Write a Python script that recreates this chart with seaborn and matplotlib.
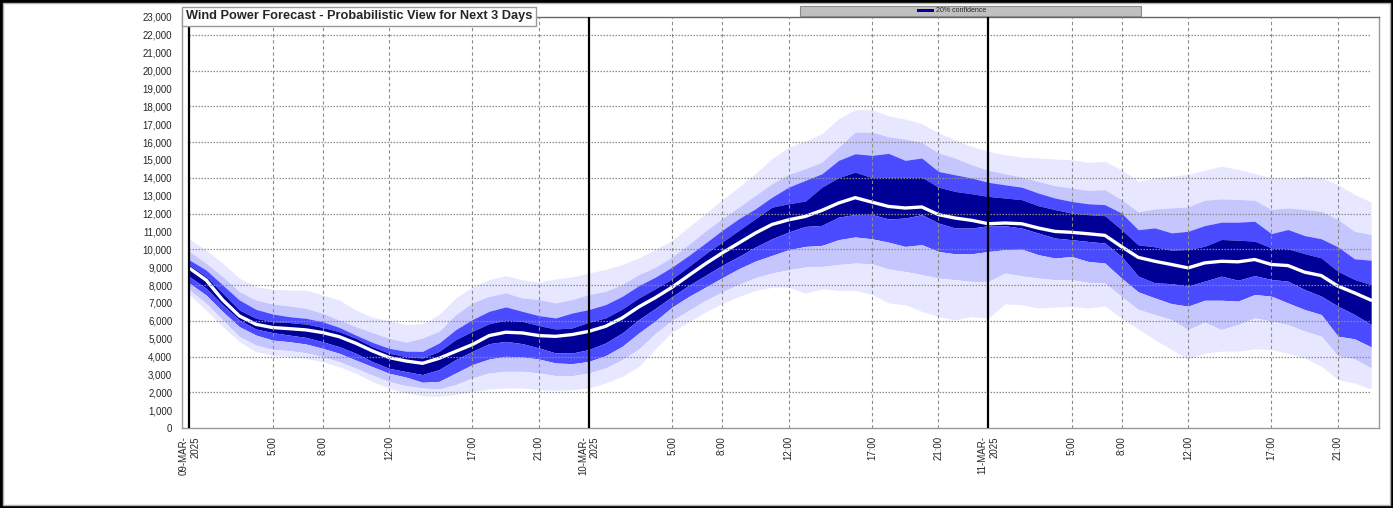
import matplotlib
matplotlib.use("Agg")
import matplotlib.pyplot as plt
import seaborn as sns
import numpy as np
from matplotlib.patches import Rectangle
from matplotlib.ticker import FuncFormatter

# hourly forecast, 09-MAR-2025 00:00 .. 11-MAR-2025 23:00 (MW)
hours = np.arange(72)

median = [8940, 8280, 7160, 6270, 5800, 5620, 5560, 5490, 5340, 5110, 4740, 4310,
          3940, 3750, 3620, 3900, 4290, 4670, 5170, 5360, 5320, 5170, 5130, 5230,
          5410, 5690, 6160, 6780, 7300, 7880, 8540, 9190, 9790, 10350, 10910, 11390,
          11650, 11840, 12180, 12590, 12890, 12640, 12400, 12310, 12370, 11940, 11750, 11620,
          11430, 11470, 11430, 11190, 11000, 10950, 10870, 10780, 10150, 9550, 9330, 9150,
          8960, 9240, 9330, 9300, 9430, 9150, 9090, 8720, 8530, 7940, 7560, 7150]

# band edges, outermost (4) to innermost (1)
upper4 = [10560, 9960, 9220, 8380, 7910, 7760, 7720, 7720, 7440, 7160, 6600, 6190,
          6000, 5790, 5840, 6350, 7280, 7900, 8300, 8530, 8300, 8160, 8340, 8450,
          8680, 8870, 9150, 9520, 10000, 10500, 11250, 11990, 12770, 13480, 14230, 15070,
          15720, 16060, 16470, 17310, 17810, 17810, 17470, 17290, 17030, 16510, 16130, 15760,
          15480, 15290, 15160, 15110, 15050, 15010, 14870, 14920, 14450, 13810, 14000, 14090,
          14190, 14430, 14650, 14470, 14240, 14000, 13940, 14090, 14000, 13630, 13070, 12640]
upper3 = [9870, 9220, 8470, 7630, 7160, 6940, 6830, 6700, 6420, 6040, 5670, 5340,
          5020, 4800, 5040, 5410, 6350, 7000, 7370, 7560, 7280, 7190, 7000, 7190,
          7470, 7650, 8030, 8590, 9000, 9570, 10270, 11020, 11710, 12360, 13020, 13670,
          14190, 14510, 14880, 15720, 16560, 16560, 16300, 16170, 15980, 15390, 15110, 14730,
          14420, 14230, 14040, 13800, 13560, 13430, 13300, 13340, 12780, 12100, 12260, 12320,
          12380, 12750, 12820, 12790, 12750, 12230, 12320, 12230, 12130, 11670, 11010, 10830]
upper2 = [9400, 8840, 8000, 7160, 6640, 6380, 6230, 6140, 5950, 5630, 5200, 4790,
          4460, 4300, 4290, 4760, 5510, 6070, 6530, 6780, 6530, 6290, 6160, 6440,
          6630, 6910, 7370, 7970, 8450, 9010, 9660, 10350, 11060, 11710, 12270, 12920,
          13480, 13860, 14230, 14980, 15350, 15260, 15370, 14980, 15110, 14360, 14170, 13990,
          13750, 13610, 13480, 13150, 12870, 12680, 12550, 12500, 12030, 11100, 11200, 10920,
          11010, 11330, 11520, 11520, 11570, 10880, 11110, 10770, 10590, 10140, 9470, 9390]
upper1 = [9120, 8470, 7540, 6600, 6140, 5950, 5900, 5820, 5630, 5390, 5020, 4550,
          4180, 4000, 3920, 4290, 4950, 5410, 5840, 6030, 5970, 5730, 5540, 5600,
          5920, 6160, 6660, 7280, 7800, 8350, 9040, 9750, 10400, 11060, 11710, 12360,
          12550, 12700, 13480, 14010, 14320, 14010, 14030, 14040, 14040, 13480, 13240, 13110,
          12960, 12870, 12780, 12440, 12220, 12030, 11940, 11880, 11100, 10250, 10140, 9950,
          9990, 10170, 10550, 10510, 10460, 10080, 10030, 9760, 9520, 8770, 8310, 8030]
lower1 = [8470, 7820, 6880, 6040, 5540, 5340, 5200, 5070, 4830, 4550, 4180, 3710,
          3340, 3160, 2990, 3270, 3830, 4290, 4720, 4850, 4720, 4480, 4200, 4200,
          4390, 4760, 5320, 6070, 6700, 7360, 7980, 8540, 9100, 9600, 10130, 10590,
          10970, 11280, 11340, 11800, 11950, 11950, 11700, 11750, 11940, 11470, 11190, 11190,
          11320, 11320, 11190, 10910, 10630, 10540, 10440, 10350, 9600, 8500, 8120, 8080,
          7940, 8220, 8500, 8270, 8530, 8310, 8220, 7750, 7380, 6820, 6350, 5790]
lower2 = [8100, 7440, 6510, 5670, 5200, 4920, 4830, 4700, 4460, 4180, 3800, 3430,
          3060, 2850, 2560, 2610, 3080, 3550, 3860, 4010, 3980, 3860, 3640, 3600,
          3730, 4050, 4570, 5320, 6000, 6770, 7360, 7880, 8410, 8910, 9340, 9660,
          9980, 10160, 10220, 10540, 10690, 10590, 10400, 10160, 10260, 9880, 9750, 9750,
          9880, 9980, 10010, 9700, 9510, 9600, 9320, 9230, 8390, 7620, 7280, 6960,
          6820, 7150, 7150, 7100, 7470, 7380, 7000, 6630, 6350, 5140, 4990, 4540]
lower3 = [7720, 6980, 6040, 5110, 4640, 4400, 4330, 4210, 3990, 3710, 3340, 2960,
          2590, 2370, 2240, 2180, 2430, 2800, 3080, 3170, 3170, 3080, 2930, 2930,
          3080, 3360, 3830, 4420, 5300, 6020, 6580, 7140, 7610, 8040, 8410, 8670,
          8860, 9010, 9040, 9150, 9230, 9190, 8900, 8760, 8580, 8390, 8300, 8200,
          8200, 8670, 8510, 8390, 8300, 8300, 8150, 8110, 7360, 6640, 6350, 6070,
          5510, 5920, 5510, 5790, 6160, 5980, 5790, 5420, 5140, 4050, 3870, 3360]
lower4 = [7440, 6600, 5670, 4830, 4270, 4080, 3990, 3900, 3710, 3430, 3060, 2590,
          2220, 1970, 1810, 1770, 1870, 2050, 2180, 2240, 2240, 2150, 2110, 2150,
          2240, 2520, 2890, 3450, 4450, 5370, 5930, 6490, 6960, 7360, 7700, 7880,
          7880, 7550, 7790, 7700, 7700, 7480, 7000, 6900, 6530, 6240, 6050, 6240,
          6150, 6950, 6900, 6710, 6770, 6800, 6710, 6840, 6150, 5550, 4950, 4390,
          3870, 4200, 4300, 4300, 4430, 4390, 4170, 3930, 3460, 2710, 2520, 2180]

tick_hours = [0, 5, 8, 12, 17, 21, 24, 29, 32, 36, 41, 45, 48, 53, 56, 60, 65, 69]
tick_labels = ["09-MAR-\n2025", "5:00", "8:00", "12:00", "17:00", "21:00",
               "10-MAR-\n2025", "5:00", "8:00", "12:00", "17:00", "21:00",
               "11-MAR-\n2025", "5:00", "8:00", "12:00", "17:00", "21:00"]
day_hours = [0, 24, 48]

sns.set_style("white")
plt.rcParams['font.family'] = ['Liberation Sans', 'DejaVu Sans']

W, H = 1393, 508
fig = plt.figure(figsize=(W / 100, H / 100), dpi=100, facecolor='black')
# white page with thin grey frame inside the black border
fig.patches.append(Rectangle((3 / W, 3 / H), (W - 6) / W, (H - 6) / H,
                             transform=fig.transFigure, fc='white', ec='#b0b0b0',
                             lw=1, zorder=-5))

ax = fig.add_axes([182 / W, (H - 428) / H, (1379 - 182) / W, (428 - 17) / H])
ax.set_zorder(1)
ax.set_facecolor('white')

c_navy, c_mid, c_light, c_pale = '#000096', '#4a4aff', '#c6c6ff', '#e7e7ff'

ax.fill_between(hours, upper4, upper3, color=c_pale, lw=0)
ax.fill_between(hours, upper3, upper2, color=c_light, lw=0)
ax.fill_between(hours, upper2, upper1, color=c_mid, lw=0)
ax.fill_between(hours, upper1, lower1, color=c_navy, lw=0)
ax.fill_between(hours, lower1, lower2, color=c_mid, lw=0)
ax.fill_between(hours, lower2, lower3, color=c_light, lw=0)
ax.fill_between(hours, lower3, lower4, color=c_pale, lw=0)

sns.lineplot(x=hours, y=median, ax=ax, color='white', lw=2.4, zorder=5)

# grid
ax.hlines(np.arange(2000, 23000, 2000), 0, hours[-1], colors='#8c8c8c',
          linestyles=(0, (1.2, 1.2)), lw=0.9, zorder=6)
for h in tick_hours:
    if h in day_hours:
        ax.axvline(h, color='black', lw=1.6, zorder=7)
    else:
        ax.axvline(h, color='#8c8c8c', ls=(0, (3, 2.5)), lw=0.8, zorder=6)

ax.set_xlim(-0.42, 71.47)
ax.set_ylim(0, 23000)
ax.set_yticks(np.arange(0, 24000, 1000))
ax.yaxis.set_major_formatter(FuncFormatter(lambda v, p: f"{int(v):,}"))
ax.tick_params(axis='y', length=3, width=0.8, color='#888888', labelsize=7, pad=4)

ax.set_xticks(tick_hours)
ax.set_xticklabels(tick_labels, rotation=90, va='top', ha='center',
                   multialignment='right', fontsize=7)
ax.set_xticks([-0.45 + 11.97 * k for k in range(7)], minor=True)
ax.tick_params(axis='x', which='major', length=0, pad=6)
ax.tick_params(axis='x', which='minor', length=4, width=0.8, color='#888888')
ax.set_xlabel('')
ax.set_ylabel('')

for side in ['left', 'bottom', 'right']:
    ax.spines[side].set_color('#999999')
    ax.spines[side].set_linewidth(1)
ax.spines['top'].set_color('#666666')
ax.spines['top'].set_linewidth(1)

# title box
fig.text(186 / W, 1 - 16.5 / H, "Wind Power Forecast - Probabilistic View for Next 3 Days",
         fontsize=9.2, fontweight='bold', va='center', ha='left', zorder=10,
         bbox=dict(boxstyle='square,pad=0.3', fc='white', ec='#9a9a9a', lw=1))

# legend bar
fig.patches.append(Rectangle((800 / W, 1 - 15.5 / H), 341 / W, 10 / H,
                             transform=fig.transFigure, fc='#c0c0c0', ec='#8a8a8a', lw=0.8))
fig.patches.append(Rectangle((917 / W, 1 - 12 / H), 17 / W, 3 / H,
                             transform=fig.transFigure, fc=c_navy, ec='none'))
fig.text(936 / W, 1 - 10.5 / H, "20% confidence", fontsize=5, va='center', ha='left')

fig.savefig('out.png', dpi=100, facecolor=fig.get_facecolor())
